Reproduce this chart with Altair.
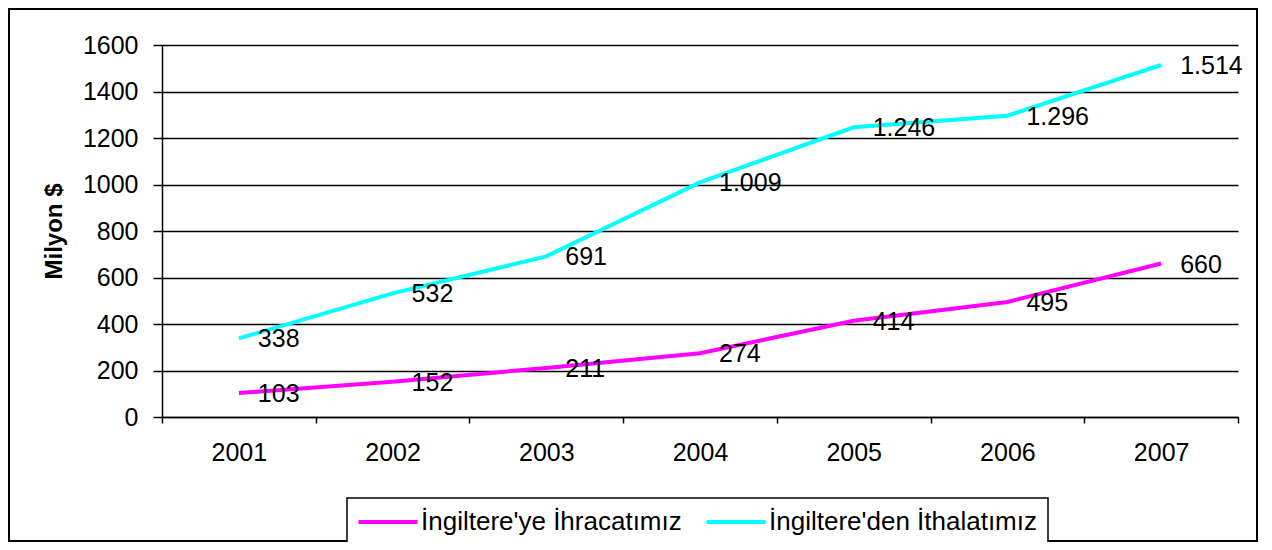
import altair as alt
import pandas as pd

years = ["2001", "2002", "2003", "2004", "2005", "2006", "2007"]
ihracat = [103, 152, 211, 274, 414, 495, 660]
ithalat = [338, 532, 691, 1009, 1246, 1296, 1514]
series_names = ["İngiltere'ye İhracatımız", "İngiltere'den İthalatımız"]
series_colors = ["#FF00FF", "#00FFFF"]
y_ticks = [0, 200, 400, 600, 800, 1000, 1200, 1400, 1600]

FONT = "Liberation Sans"

rows = []
for name, vals in zip(series_names, [ihracat, ithalat]):
    for yr, v in zip(years, vals):
        rows.append({"year": yr, "value": v, "series": name,
                     "label": f"{v:,}".replace(",", ".")})
df = pd.DataFrame(rows)

x_enc = alt.X("year:N", sort=years,
              scale=alt.Scale(type="band", paddingInner=0, paddingOuter=0),
              axis=alt.Axis(title=None, tickBand="extent", tickSize=6, labelPadding=17,
                            labelFontSize=25, labelFont=FONT, labelColor="black",
                            domainColor="black", domainWidth=1.5, tickColor="black",
                            tickWidth=1.5, grid=False, labelAngle=0))
y_enc = alt.Y("value:Q", scale=alt.Scale(domain=[0, 1600], nice=False),
              axis=alt.Axis(title="Milyon $", values=y_ticks, format="d", tickSize=9,
                            labelPadding=15,
                            labelFontSize=25, labelFont=FONT, labelColor="black",
                            titleFont=FONT, titleFontSize=24, titleFontWeight="bold",
                            titleColor="black", titlePadding=16,
                            domainColor="black", domainWidth=1.5, tickColor="black",
                            tickWidth=1.5, grid=True, gridColor="black", gridWidth=1.5))
color_enc = alt.Color("series:N",
                      scale=alt.Scale(domain=series_names, range=series_colors),
                      legend=alt.Legend(title=None, orient="none", legendX=185, legendY=453,
                                        direction="horizontal"))

lines = alt.Chart(df).mark_line(strokeWidth=4).encode(x=x_enc, y=y_enc, color=color_enc)
labels = alt.Chart(df).mark_text(align="left", baseline="middle", dx=19, dy=1,
                                 fontSize=25, font=FONT, color="black").encode(
    x=alt.X("year:N", sort=years), y="value:Q", text="label:N")

border = alt.Chart(pd.DataFrame({"a": [0]})).mark_rect(
    fill="white", fillOpacity=0, stroke="black", strokeWidth=2).encode(
    x=alt.value(-153), x2=alt.value(1095), y=alt.value(-36), y2=alt.value(496))

chart = alt.layer(lines, labels, border).properties(
    width=1076, height=372,
    autosize=alt.AutoSizeParams(type="none"),
    padding={"left": 154, "top": 37, "right": 22, "bottom": 125},
    background="white",
).configure_view(stroke=None).configure_legend(
    padding=11, strokeColor="black", strokeWidth=1.5, fillColor="white",
    symbolType="M-2.95,0H2.95", symbolSize=400, symbolStrokeWidth=4,
    symbolOffset=17,
    labelFontSize=26, labelFont=FONT, labelColor="black", labelLimit=0,
    columnPadding=16, labelOffset=20,
)

chart.save("out.html", embed_options={"renderer": "svg", "actions": False})
